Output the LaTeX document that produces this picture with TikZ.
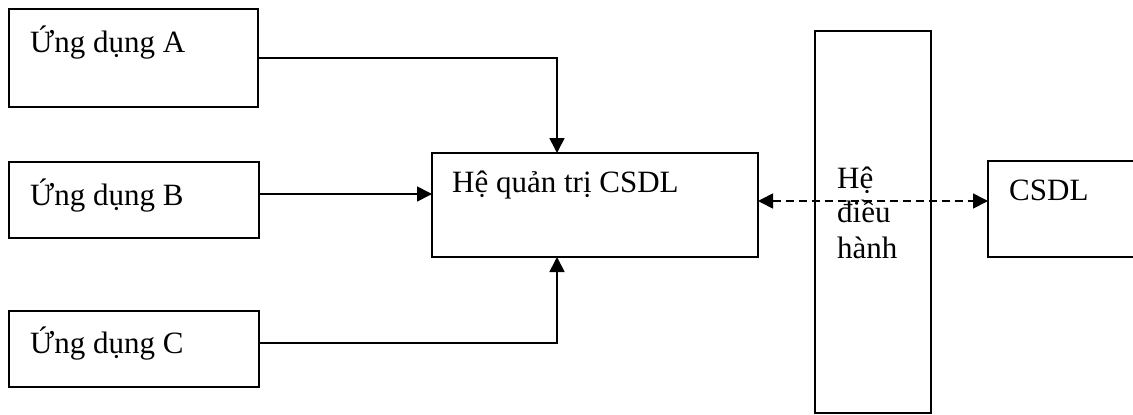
\documentclass[tikz,border=0pt]{standalone}
\usepackage{fontspec}
\setmainfont{Liberation Serif}
\usetikzlibrary{arrows.meta}
\begin{document}
\begin{tikzpicture}[x=1pt,y=-1pt,
  box/.style={draw,line width=1.7pt,inner sep=0pt,outer sep=0pt,anchor=north west},
  txt/.style={anchor=base west,inner sep=0pt,font=\fontsize{31}{35.5}\selectfont},
  arr/.style={line width=1.7pt,-{Triangle[length=15pt,width=15pt]}},
  darr/.style={line width=1.7pt,dash pattern=on 8pt off 5pt,
    {Triangle[length=15pt,width=15pt]}-{Triangle[length=15pt,width=15pt]}}]
\useasboundingbox (0,0) rectangle (1133,415);
\clip (0,0) rectangle (1133,415);

% application boxes
\node[box,minimum width=249pt,minimum height=98pt] (A) at (9,9) {};
\node[box,minimum width=250pt,minimum height=76pt] (B) at (9,162) {};
\node[box,minimum width=250pt,minimum height=76pt] (C) at (9,311) {};
% DBMS, operating system, database
\node[box,minimum width=326pt,minimum height=104pt] (dbms) at (432,153) {};
\node[box,minimum width=116pt,minimum height=382pt] (os) at (815,31) {};
\node[box,minimum width=200pt,minimum height=96pt] (csdl) at (988,161) {};

% labels
\node[txt] (tA) at (30,52) {Ứng dụng A};
\node[txt] (tB) at (30,205) {Ứng dụng B};
\node[txt] (tC) at (30,353) {Ứng dụng C};
\node[txt] (tdbms) at (452,192) {Hệ quản trị CSDL};
\node[txt] (tos1) at (837,188) {Hệ};
\node[txt] (tos2) at (837,222) {điều};
\node[txt] (tos3) at (837,258) {hành};
\node[txt] (tcsdl) at (1009,200) {CSDL};

% connectors
\coordinate (pA) at ([xshift=125pt]dbms.north west);
\coordinate (pC) at ([xshift=125pt]dbms.south west);
\coordinate (bo) at ([yshift=6pt]B.east);
\coordinate (co) at ([yshift=6pt]C.east);
\coordinate (d1) at ([yshift=4pt]dbms.east);
\draw[arr] (A.east) -| (pA);
\draw[arr] (bo) -- (bo -| dbms.west);
\draw[arr] (co) -| (pC);
\draw[darr] (d1) -- (d1 -| csdl.west);
\end{tikzpicture}
\end{document}
